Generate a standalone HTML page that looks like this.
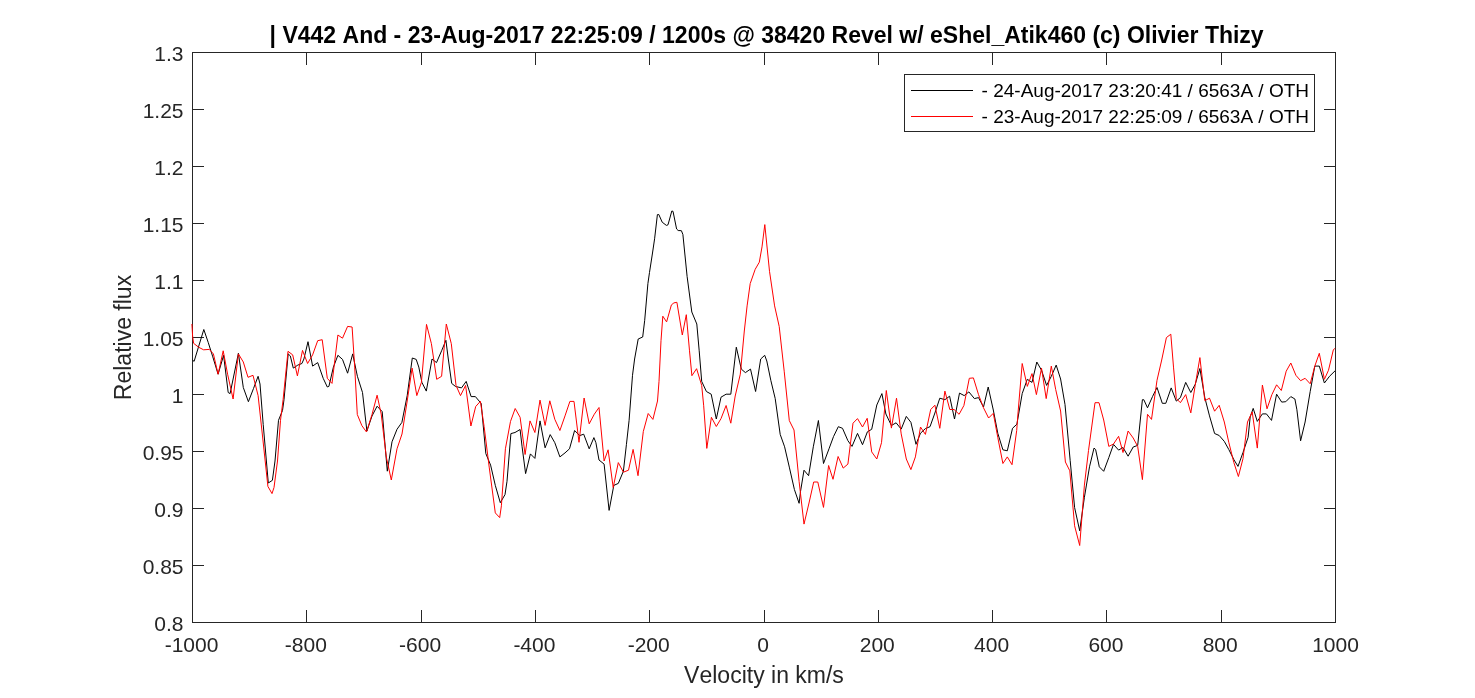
<!DOCTYPE html>
<html lang="en"><head><meta charset="utf-8"><title>V442 And - Velocity plot</title>
<style>
html,body{margin:0;padding:0;background:#fff;}
body{width:1475px;height:698px;overflow:hidden;}
svg{display:block;font-kerning:none;font-variant-ligatures:none;font-family:"Liberation Sans",Arial,Helvetica,sans-serif;}
.tk text{font-size:21px;fill:#262626;}
.lbl{font-size:23px;fill:#262626;}
.ttl{font-size:23px;font-weight:bold;fill:#000;}
.lg text{font-size:19px;fill:#000;}
</style></head>
<body>
<svg width="1475" height="698" viewBox="0 0 1475 698">
<rect x="0" y="0" width="1475" height="698" fill="#fff"/>
<g fill="none" stroke="#262626" stroke-width="1" shape-rendering="crispEdges">
<rect x="192.5" y="52.5" width="1143.0" height="570.0"/>
<path d="M306.5,610V623M306.5,52V65M192,109.5H204M1324,109.5H1336M421.5,610V623M421.5,52V65M192,166.5H204M1324,166.5H1336M535.5,610V623M535.5,52V65M192,223.5H204M1324,223.5H1336M649.5,610V623M649.5,52V65M192,280.5H204M1324,280.5H1336M764.5,610V623M764.5,52V65M192,337.5H204M1324,337.5H1336M878.5,610V623M878.5,52V65M192,394.5H204M1324,394.5H1336M992.5,610V623M992.5,52V65M192,451.5H204M1324,451.5H1336M1106.5,610V623M1106.5,52V65M192,508.5H204M1324,508.5H1336M1221.5,610V623M1221.5,52V65M192,565.5H204M1324,565.5H1336"/>
</g>
<g fill="none" stroke-linejoin="round" stroke-linecap="butt" stroke-width="1.0">
<polyline stroke="#000" points="192.5,360.0 194.1,361.4 203.8,329.5 208.3,342.7 212.8,356.9 218.1,374.2 223.6,355.3 228.2,392.5 230.1,393.6 238.4,353.3 243.3,387.5 248.4,401.7 253.5,388.5 258.1,376.3 260.0,384 263.2,424.4 268.3,483 272.4,480.3 275,461 278.5,420.3 282.5,410.5 284,399.7 288.2,353.9 290.3,355.9 293.3,368.1 297.8,365.1 301.9,363.5 303.9,359 308,341.7 312.6,366.1 317.7,362.6 323.2,378.3 327.3,387 328.9,386.4 333.4,367.1 337.9,355.3 342.5,359.4 347.6,373.2 352.7,353.9 357.4,376.3 362.5,392.5 366.9,431 372,416 377.1,406.2 382.2,411.6 387.3,471.2 392,441.8 397,429.3 401.9,422.4 407.2,395.6 412.3,358 416.2,359.4 418.8,367.1 421.9,382.4 426.3,391.1 432,359 436.5,362.6 441.6,350.8 445.9,340.3 448.3,359 451.7,383.4 455.4,386.4 461.5,387.9 466.2,381.4 471.1,396.6 475.4,396.6 481.2,403.5 485.8,453.5 490.6,465.1 495.3,485.4 500.3,502.7 505,494.6 507,481.3 510.9,433.6 515,432.5 520.1,429.5 522.1,446.8 525.6,473.6 530.4,453.9 534.9,458.4 540,420.9 545.1,447.8 550.2,434.6 554.8,442.7 559.9,456.9 565,452.9 569.5,448.8 574.6,430.5 579.7,435.6 583.7,434.2 589.2,448.8 593.9,437.6 595.9,442.7 599,460 604.1,464.1 609.1,510.4 613.8,485.4 618.3,483.4 623.4,471.2 626.4,444.7 629.1,420.3 632.5,375.3 634.6,359 638.2,339 642.7,337 644.7,320.3 647.9,283.6 649.5,272.4 652.5,253 654.6,238.8 657.4,214.6 658.8,214.5 662.2,222.2 666.4,225.4 668,224.8 671.8,211 673,211.3 676.6,229.0 678.2,230.5 681.4,230.7 682.9,234.5 687.1,276.4 691.8,312 696.8,324 699.2,350.8 701.7,381.4 706.4,391.5 711.2,394.2 716.3,419 721,397.2 726.1,394.2 730.8,394.2 736.3,347.2 741.3,369.1 745.4,372.6 750.5,369.1 755.6,391.5 760.7,359 764.7,355.3 766.8,361 770.8,380.3 775.2,398.5 780.2,434.4 784.6,446.8 789.3,467.1 794.4,489.5 799.1,503.3 800.5,491.5 804,470.2 808.6,475.7 813.3,446.8 818.4,420.5 823.5,463.5 829,448.8 833.5,436.6 838.3,426.7 842.5,428.3 847.9,440.7 852,446.4 857.5,433.4 862.5,444.7 867.4,431.8 871.7,429.3 876.8,405 881.9,393.6 885.9,414 891.4,425.5 896.1,422.8 901.2,429.1 906.3,416.4 910.9,422.3 916,444.3 920.5,433.2 925.4,428.6 930,426.7 934.9,413 939.8,398.2 944.9,399.7 949.6,396.2 954.5,419 959.5,393.1 964.2,395.6 968.9,391.9 974.4,398.6 978.5,397.6 983.5,407 988.2,387 993.3,410 997.8,433.3 1002.9,449.8 1007.3,450.8 1012.5,428.3 1016.9,424.2 1022.2,393.6 1027.3,379.3 1032,382.4 1036.8,362 1041.5,370.2 1046.6,385.4 1051.3,376.3 1056.2,365.1 1060.6,379 1065,404.5 1070.2,460.7 1074.6,507.5 1079.7,530.8 1084.4,497.3 1089.5,466.8 1094,448.1 1095.6,449.5 1099.3,466.8 1103.7,471.3 1108.8,457.6 1113.5,444.4 1118.6,450.1 1123,447.5 1128.1,456.2 1133.2,447 1137.7,445.4 1140.3,420 1142.4,399.7 1143.8,399.7 1147.5,407.8 1152.5,396.6 1157,387.5 1162.3,403.3 1165.8,403.3 1171.2,387.9 1176.3,401.1 1180.4,397.6 1185.7,382.4 1190.8,392.5 1195.2,384.4 1199.9,368.5 1204.8,397.6 1209.5,415.9 1214.6,433.5 1219.2,435.5 1224.3,441.4 1228.8,449.5 1233.9,459.7 1238,466.4 1243,452.5 1248.1,437.3 1250.2,416.9 1253.2,408.4 1257.3,421.4 1262.4,413.9 1266.4,413.9 1271.5,420.4 1276.6,394.2 1281.7,402.1 1285.8,401.7 1290.8,396.6 1294.9,399 1296.9,409.8 1300.6,440.8 1305.1,422 1310.2,391.5 1314.8,366.1 1319.3,366.1 1324.4,383 1329.5,376.3 1335,370.9"/>
<polyline stroke="#f00" points="191.9,324 192.6,336 193.6,343.3 198.6,347.2 203.6,349.8 209.3,349.4 213.4,353.9 218.1,374.2 223.2,350.8 227.6,374.2 233.1,399 238.4,353.9 243.3,362 248,377.3 253,375.3 258.1,395.6 262.5,436 267.9,486.4 272,493.6 274,487.5 277.5,461 280.5,420.3 283.1,399.7 288,351.3 292.7,354.9 297.4,375.9 302.5,350.4 307.6,363.5 312.6,354.9 317.7,340.7 322.2,339.7 327.3,378.3 332,383.4 337.9,335 342.5,338.2 347.6,326.4 352.1,327 354.7,367.1 357.3,414.5 361.9,425.7 366.5,432 372,414.5 377.1,395.2 381.2,414 386.3,457 391.3,480 397,448.8 402,434 407.2,401 412.1,368.1 416.8,395.6 421.4,382.4 426.5,324.4 431.4,343.7 436.7,379.3 441.6,376.3 446.3,324 451.3,343.7 456,385.4 460.5,395.6 465.6,385.4 470.9,426 475.7,406.5 480.4,401.3 484.1,426.4 489.2,467.1 495.3,512.9 499.7,517.6 501.4,505.8 505.4,448.8 510.5,421.4 515.2,408.5 520.1,417.3 525.1,454.5 530,420.9 534.9,432.5 540,400.1 545.1,425.4 549.8,400.8 554.8,419.3 559.9,430.5 565,415.9 569.9,401.4 574,401.4 579,442.3 584.1,398 589.2,423.8 594.3,414.2 599,407.5 604.1,461 608.1,449.8 613.2,487.5 618.3,462.6 623.4,472.2 628.5,470.2 633.1,449.4 638,475.7 643.3,431.5 648.2,413.5 652.9,419.4 657.5,401 659,381.4 661,340.7 662.8,316.2 666.6,321.9 671.4,304.9 673.9,302.9 676.9,302.3 682.3,335 686.3,314.7 689.5,350.8 691.9,375.7 696.6,368.7 701.7,385.4 703.7,405.8 706.8,448.4 711.4,417.3 716.3,426.5 721,418.6 726.1,405.5 730.8,423.2 735.2,396 740.3,374.2 744.3,331 747.1,305.9 750.2,283.6 755.2,269.3 759.3,262.2 762,246.9 764.8,224.6 769.5,271.3 774.6,305.9 779.2,326.4 784.2,371.2 789.3,420.6 794,430 799.1,481.4 804,524.1 809,503 813.7,482 817.8,482 823.5,507.4 828.6,465.5 833,479.3 838.1,456.5 843.2,468.1 847.9,464.1 853,423.2 857.5,418.6 862.5,427 867.2,418.3 871.7,451.9 876.8,459 881.5,442.7 886.3,390.5 891.4,428.1 896.5,398.2 901.2,433.9 906.3,459 910.9,469.6 915.4,456.9 920.5,427 925.4,434.4 930.7,409.5 934.9,405.2 939.8,428.3 944.9,391.1 949.8,409.5 954.1,409.5 959.1,414.3 963.9,405.5 969.3,378.3 973.4,377.9 978.5,394.6 983.5,407.8 988.6,418 993.3,413.3 997.8,437.5 1002.9,463.5 1007.3,456.9 1012,464.7 1016.7,430.5 1018.1,411.9 1022.2,363.5 1027.3,386.4 1032,373.6 1036.4,394.6 1041.5,368.1 1046.2,398.6 1051.3,366.1 1055.7,389.5 1060.6,411 1065.4,462 1069.8,470.8 1074.6,525.8 1079.7,545.5 1084.4,485.1 1088.5,450.5 1095,402.7 1099,402.7 1103.7,420 1108.8,446.4 1113.5,444 1118.6,436.3 1123,452.5 1128.1,431 1133.2,438 1137.7,446.4 1142.4,479.6 1147.5,414.3 1151.5,419.4 1157,380.3 1161.7,360 1166.4,337.6 1170.8,334.2 1173.5,367.1 1176.3,398.6 1180.4,402.7 1185.7,394.6 1190.8,412.9 1195.2,385.4 1199.9,357.6 1204.8,400.7 1209.5,398.2 1214.6,411.2 1219.2,405.3 1224.3,422 1228.8,442.4 1233.9,462.7 1238.4,476.5 1243,458.6 1247.5,422 1252.2,411.9 1257.3,448.1 1262.4,385 1267,408.8 1271.9,394.6 1276.6,384.8 1281.3,390.5 1286.2,371.2 1290.8,363 1295.9,375.3 1300.6,380.7 1305.1,378.3 1310.2,383.8 1314.8,366.1 1319.3,353.3 1324.4,379.3 1328.5,370.2 1333.3,350 1335,348.2"/>
</g>
<g class="tk"><text x="191.5" y="652" text-anchor="middle">-1000</text><text x="305.8" y="652" text-anchor="middle">-800</text><text x="420.1" y="652" text-anchor="middle">-600</text><text x="534.4" y="652" text-anchor="middle">-400</text><text x="648.7" y="652" text-anchor="middle">-200</text><text x="763.0" y="652" text-anchor="middle">0</text><text x="877.3" y="652" text-anchor="middle">200</text><text x="991.6" y="652" text-anchor="middle">400</text><text x="1105.9" y="652" text-anchor="middle">600</text><text x="1220.2" y="652" text-anchor="middle">800</text><text x="1335.5" y="652" text-anchor="middle">1000</text><text x="183.5" y="60.5" text-anchor="end">1.3</text><text x="183.5" y="117.5" text-anchor="end">1.25</text><text x="183.5" y="174.5" text-anchor="end">1.2</text><text x="183.5" y="231.5" text-anchor="end">1.15</text><text x="183.5" y="288.5" text-anchor="end">1.1</text><text x="183.5" y="345.5" text-anchor="end">1.05</text><text x="183.5" y="402.5" text-anchor="end">1</text><text x="183.5" y="459.5" text-anchor="end">0.95</text><text x="183.5" y="516.5" text-anchor="end">0.9</text><text x="183.5" y="573.5" text-anchor="end">0.85</text><text x="183.5" y="630.5" text-anchor="end">0.8</text></g>
<text class="ttl" x="269.6" y="42.8">| V442 And - 23-Aug-2017 22:25:09 / 1200s @ 38420 Revel w/ eShel_Atik460 (c) Olivier Thizy</text>
<text class="lbl" x="764" y="683" text-anchor="middle">Velocity in km/s</text>
<text class="lbl" transform="translate(130.6,337.5) rotate(-90)" text-anchor="middle">Relative flux</text>
<g class="lg">
<rect x="904.5" y="74.5" width="410" height="57" fill="#fff" stroke="#262626" stroke-width="1" shape-rendering="crispEdges"/>
<path d="M910.5,90.5h62" stroke="#000" stroke-width="1" shape-rendering="crispEdges"/>
<path d="M910.5,116.5h62" stroke="#f00" stroke-width="1" shape-rendering="crispEdges"/>
<text x="981.6" y="97.0">- 24-Aug-2017 23:20:41 / 6563A / OTH</text>
<text x="981.6" y="123.0">- 23-Aug-2017 22:25:09 / 6563A / OTH</text>
</g>
</svg>
</body></html>
